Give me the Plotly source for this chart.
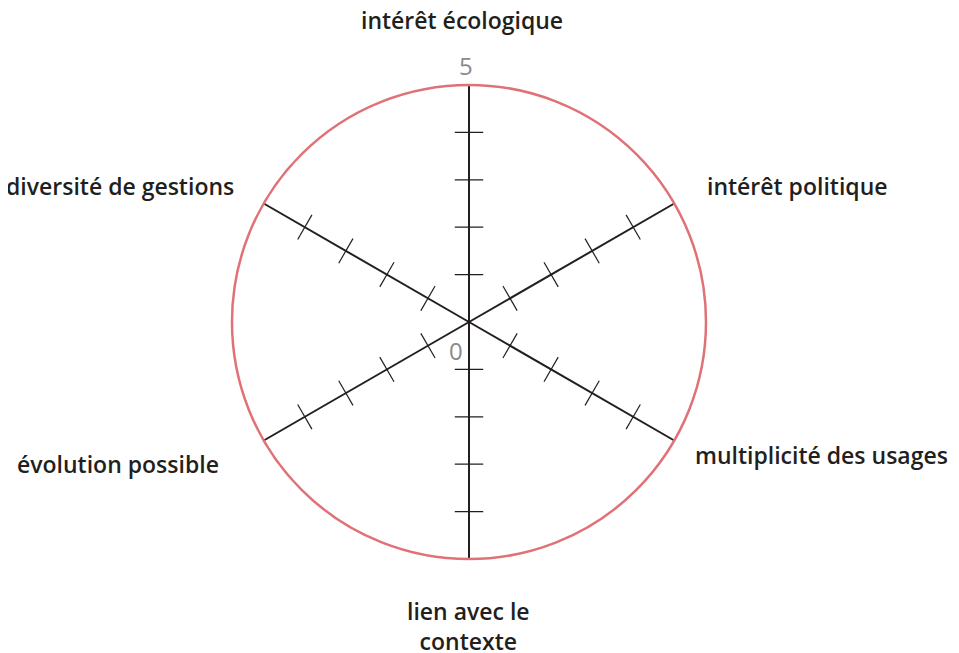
import plotly.graph_objects as go
import numpy as np

categories = ["intérêt écologique", "intérêt politique", "multiplicité des usages",
              "lien avec le<br>contexte", "évolution possible", "diversité de gestions"]
spoke_angles = [0, 60, 120, 180, 240, 300]
radial_ticks = [1, 2, 3, 4]
r_min, r_max = 0, 5

OFF = 8  # page body margin
W, H = 959 - OFF, 653 - OFF
ML, MR, MT, MB = 92, 121, 77, 94

fig = go.Figure()

# tick marks perpendicular to each spoke
half = 0.3
rs, ts = [], []
for a in spoke_angles:
    for k in radial_ticks:
        rr = float(np.hypot(k, half))
        d = float(np.degrees(np.arctan2(half, k)))
        rs += [rr, rr, None]
        ts += [a - d, a + d, None]
fig.add_trace(go.Scatterpolar(r=rs, theta=ts, mode="lines",
                              line=dict(color="#231f20", width=1.2),
                              hoverinfo="skip", showlegend=False))

fig.update_layout(
    width=W, height=H,
    margin=dict(l=ML, r=MR, t=MT, b=MB),
    paper_bgcolor="white", plot_bgcolor="white",
    showlegend=False,
    polar=dict(
        bgcolor="white",
        radialaxis=dict(range=[r_min, r_max], showgrid=False, showline=False,
                        showticklabels=False, ticks=""),
        angularaxis=dict(rotation=90, direction="clockwise",
                         tickmode="array", tickvals=spoke_angles,
                         ticktext=[""] * 6, ticks="",
                         showgrid=True, gridcolor="#231f20", gridwidth=1.5,
                         showline=True, linecolor="#e07277", linewidth=2.5),
    ),
)

def px2paper(px, py):
    px -= OFF
    py -= OFF
    return (px - ML) / (W - ML - MR), (H - MB - py) / (H - MT - MB)

font_lbl = dict(family="'Open Sans', sans-serif", size=23, color="#231f20", weight=600)
label_pos = [(462, 20), (797, 186), (821, 455), (468, 626), (118, 464), (120, 186)]
for txt, (px, py) in zip(categories, label_pos):
    x, y = px2paper(px, py)
    fig.add_annotation(x=x, y=y, xref="paper", yref="paper", text=txt, showarrow=False,
                       font=font_lbl, xanchor="center", yanchor="middle", align="center")

font_num = dict(family="'Open Sans', sans-serif", size=24, color="#8a8a8a")
for txt, (px, py) in [(str(r_max), (466, 66)), (str(r_min), (456, 350))]:
    x, y = px2paper(px, py)
    fig.add_annotation(x=x, y=y, xref="paper", yref="paper", text=txt, showarrow=False,
                       font=font_num, xanchor="center", yanchor="middle")

fig.write_html("out.html")
